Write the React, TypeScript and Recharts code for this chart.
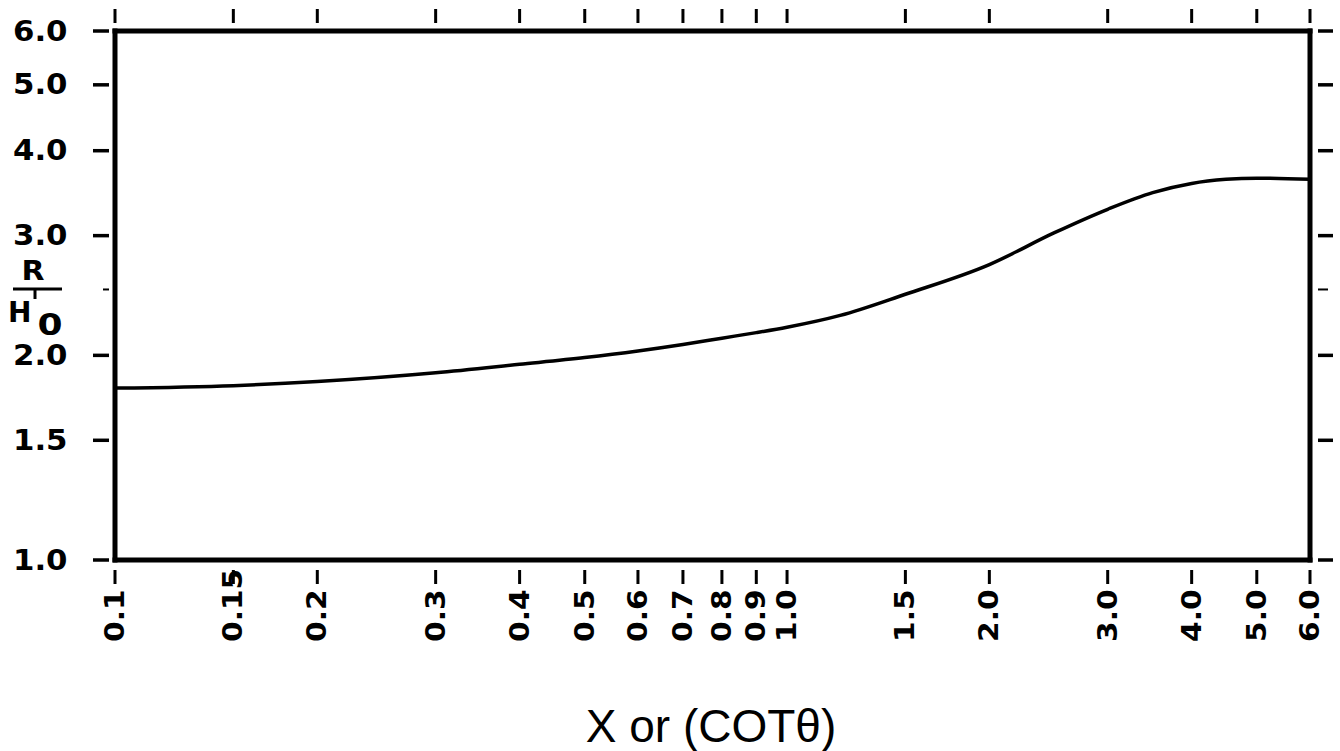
import React from 'react';
import { LineChart, Line, XAxis, YAxis } from 'recharts';

const xValues = [0.1, 0.15, 0.2, 0.3, 0.4, 0.5, 0.6, 0.7, 0.8, 0.9, 1.0, 1.2, 1.5, 2.0, 2.5, 3.0, 3.5, 4.0, 4.5, 5.0, 6.0];
const yValues = [1.79, 1.805, 1.83, 1.885, 1.94, 1.985, 2.03, 2.075, 2.12, 2.16, 2.2, 2.29, 2.46, 2.72, 3.03, 3.28, 3.47, 3.58, 3.63, 3.645, 3.63];

const xTicks = [0.1, 0.15, 0.2, 0.3, 0.4, 0.5, 0.6, 0.7, 0.8, 0.9, 1.0, 1.5, 2.0, 3.0, 4.0, 5.0, 6.0];
const xTickLabels = ['0.1', '0.15', '0.2', '0.3', '0.4', '0.5', '0.6', '0.7', '0.8', '0.9', '1.0', '1.5', '2.0', '3.0', '4.0', '5.0', '6.0'];
const yTicks = [1, 1.5, 2, 2.5, 3, 4, 5, 6];
const yTickLabels = ['1.0', '1.5', '2.0', '', '3.0', '4.0', '5.0', '6.0'];

const xAxisTitle = 'X or (COTθ)';
const yTitleTop = 'R';
const yTitleBottom = 'H';
const yTitleSub = '0';

const data = xValues.map((x, i) => ({ x, y: yValues[i] }));

const FONT = '"DejaVu Sans", sans-serif';
const INK = '#000';

const BottomTick = (props: any) => {
  const { x, y, payload } = props;
  const i = xTicks.indexOf(payload.value);
  const label = i >= 0 ? xTickLabels[i] : '';
  return (
    <g>
      <line x1={x} x2={x} y1={y + 10} y2={y + 24} stroke={INK} strokeWidth={3} />
      <text
        transform={`translate(${x},${y + 82}) rotate(-90) scale(1.1,1)`}
        textAnchor="start"
        dominantBaseline="central"
        fontFamily={FONT}
        fontWeight="bold"
        fontSize={27}
        fill={INK}
      >
        {label}
      </text>
    </g>
  );
};

const TopTick = (props: any) => {
  const { x, y } = props;
  return <line x1={x} x2={x} y1={y - 22} y2={y - 8} stroke={INK} strokeWidth={3} />;
};

const LeftTick = (props: any) => {
  const { x, y, payload } = props;
  const i = yTicks.indexOf(payload.value);
  const label = i >= 0 ? yTickLabels[i] : '';
  const minor = label === '';
  return (
    <g>
      <line x1={minor ? x - 12 : x - 22} x2={x - 6} y1={y} y2={y} stroke={INK} strokeWidth={minor ? 2 : 3.5} />
      {label ? (
        <text
          transform={`translate(${x - 102},${y}) scale(1.1,1)`}
          textAnchor="start"
          dominantBaseline="central"
          fontFamily={FONT}
          fontWeight="bold"
          fontSize={28}
          fill={INK}
        >
          {label}
        </text>
      ) : null}
    </g>
  );
};

const RightTick = (props: any) => {
  const { x, y, payload } = props;
  const i = yTicks.indexOf(payload.value);
  const minor = i >= 0 && yTickLabels[i] === '';
  return (
    <line x1={x + 8} x2={minor ? x + 18 : x + 23} y1={y} y2={y} stroke={INK} strokeWidth={minor ? 2 : 3.5} />
  );
};

const renderYTitle = () => (
  <g>
    <text transform="translate(33,280) scale(1.15,1)" textAnchor="middle" fontFamily={FONT} fontWeight="bold" fontSize={26} fill={INK}>
      {yTitleTop}
    </text>
    <line x1={13} x2={62} y1={289} y2={289} stroke={INK} strokeWidth={3} />
    <line x1={35} x2={35} y1={289} y2={299} stroke={INK} strokeWidth={3} />
    <text x={8} y={322} textAnchor="start" fontFamily={FONT} fontWeight="bold" fontSize={28} fill={INK}>
      {yTitleBottom}
    </text>
    <text transform="translate(50,335) scale(1.2,1)" textAnchor="middle" fontFamily={FONT} fontWeight="bold" fontSize={30} fill={INK}>
      {yTitleSub}
    </text>
  </g>
);

const renderXTitle = () => (
  <text x={711} y={742} textAnchor="middle" fontFamily='"Liberation Sans", Arial, sans-serif' fontSize={46} fill={INK}>
    {xAxisTitle}
  </text>
);

const axisLineStyle = { stroke: INK, strokeWidth: 5, strokeLinecap: 'square' as const };

export default function App() {
  return (
    <div style={{ position: 'absolute', left: 0, top: 0, width: 1340, height: 751, background: '#fff' }}>
      <LineChart width={1340} height={751} data={data} margin={{ top: 0, right: 0, bottom: 0, left: 0 }}>
        <XAxis
          dataKey="x"
          type="number"
          scale="log"
          domain={[0.1, 6]}
          allowDataOverflow
          ticks={xTicks}
          interval={0}
          height={191}
          tickSize={0}
          tickMargin={0}
          tickLine={false}
          axisLine={axisLineStyle}
          tick={<BottomTick />}
          label={{ content: renderXTitle }}
        />
        <XAxis
          xAxisId="top"
          orientation="top"
          dataKey="x"
          type="number"
          scale="log"
          domain={[0.1, 6]}
          allowDataOverflow
          ticks={xTicks}
          interval={0}
          height={31}
          tickSize={0}
          tickMargin={0}
          tickLine={false}
          axisLine={axisLineStyle}
          tick={<TopTick />}
        />
        <YAxis
          type="number"
          scale="log"
          domain={[1, 6]}
          allowDataOverflow
          ticks={yTicks}
          interval={0}
          width={115}
          tickSize={0}
          tickMargin={0}
          tickLine={false}
          axisLine={axisLineStyle}
          tick={<LeftTick />}
          label={{ content: renderYTitle }}
        />
        <YAxis
          yAxisId="right"
          orientation="right"
          type="number"
          scale="log"
          domain={[1, 6]}
          allowDataOverflow
          ticks={yTicks}
          interval={0}
          width={30}
          tickSize={0}
          tickMargin={0}
          tickLine={false}
          axisLine={axisLineStyle}
          tick={<RightTick />}
        />
        <Line
          type="monotone"
          dataKey="y"
          stroke={INK}
          strokeWidth={3.5}
          dot={false}
          isAnimationActive={false}
        />
      </LineChart>
    </div>
  );
}
